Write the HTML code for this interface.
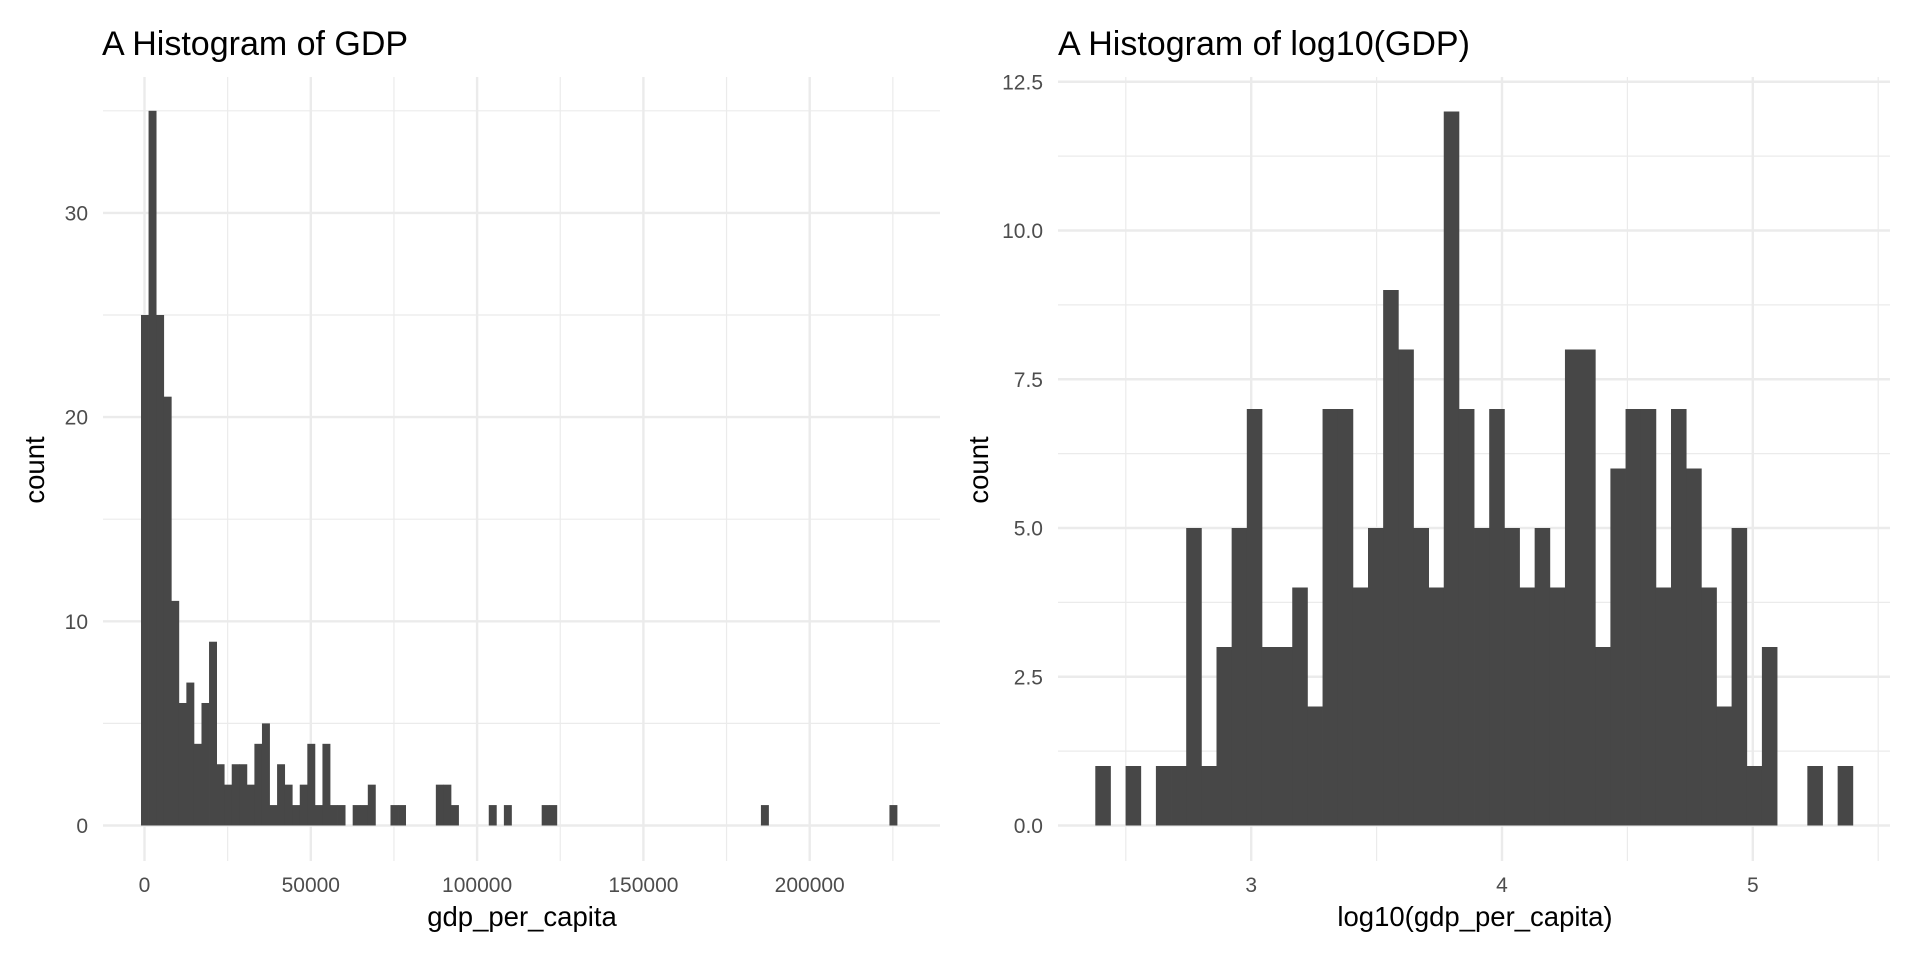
<!DOCTYPE html>
<html><head><meta charset="utf-8"><style>
html,body{margin:0;padding:0;background:#fff;}
svg{display:block;font-family:"Liberation Sans",Arial,sans-serif;}
</style></head><body>
<svg id="s" width="1920" height="960" xmlns="http://www.w3.org/2000/svg">
<rect width="1920" height="960" fill="#fff"/>
<g id="grid"></g>
<g id="bars" fill="#474747"></g>
<g id="txt" font-size="21" fill="#4d4d4d"></g>
<text x="102" y="55" font-size="34" fill="#000">A Histogram of GDP</text>
<text x="1058" y="55" font-size="34" fill="#000">A Histogram of log10(GDP)</text>
<text x="522" y="926" font-size="27.5" fill="#000" text-anchor="middle">gdp_per_capita</text>
<text x="1475" y="926" font-size="27.5" fill="#000" text-anchor="middle">log10(gdp_per_capita)</text>
<text transform="translate(44,470) rotate(-90)" font-size="27.5" fill="#000" text-anchor="middle">count</text>
<text transform="translate(988,470) rotate(-90)" font-size="27.5" fill="#000" text-anchor="middle">count</text>
</svg>
<script>
var NS="http://www.w3.org/2000/svg";
function el(p,t,a,txt){var e=document.createElementNS(NS,t);for(var k in a)e.setAttribute(k,a[k]);if(txt!==undefined)e.textContent=txt;document.getElementById(p).appendChild(e);}
var L={x0:103,x1:940,top:77,bot:861,base:825.5,unit:20.42,xz:144.5,xs:166.3/50000};
for(var v=5;v<=35;v+=10){var y=L.base-v*L.unit;el('grid','line',{x1:L.x0,x2:L.x1,y1:y,y2:y,stroke:'#ebebeb','stroke-width':1.2});}
for(var v=25000;v<=225000;v+=50000){var x=L.xz+v*L.xs;el('grid','line',{x1:x,x2:x,y1:L.top,y2:L.bot,stroke:'#ebebeb','stroke-width':1.2});}
for(var v=0;v<=30;v+=10){var y=L.base-v*L.unit;el('grid','line',{x1:L.x0,x2:L.x1,y1:y,y2:y,stroke:'#ebebeb','stroke-width':2.4});el('txt','text',{x:88,y:y+7.5,'text-anchor':'end'},String(v));}
for(var v=0;v<=200000;v+=50000){var x=L.xz+v*L.xs;el('grid','line',{x1:x,x2:x,y1:L.top,y2:L.bot,stroke:'#ebebeb','stroke-width':2.4});el('txt','text',{x:x,y:892,'text-anchor':'middle'},String(v));}
var cl={0:25,1:35,2:25,3:21,4:11,5:6,6:7,7:4,8:6,9:9,10:3,11:2,12:3,13:3,14:2,15:4,16:5,17:1,18:3,19:2,20:1,21:2,22:4,23:1,24:4,25:1,26:1,28:1,29:1,30:2,33:1,34:1,39:2,40:2,41:1,46:1,48:1,53:1,54:1,82:1,99:1};
var bw=7.56,bx=141;
for(var i in cl){var h=cl[i]*L.unit;el('bars','rect',{x:bx+i*bw,y:L.base-h,width:bw+0.4,height:h});}
var R={x0:1058,x1:1890,top:77,bot:861,base:825.5,unit:59.5,xz:1251.2,xs:250.8};
for(var v=1.25;v<=11.25;v+=2.5){var y=R.base-v*R.unit;el('grid','line',{x1:R.x0,x2:R.x1,y1:y,y2:y,stroke:'#ebebeb','stroke-width':1.2});}
[2.5,3.5,4.5,5.5].forEach(function(v){var x=R.xz+(v-3)*R.xs;el('grid','line',{x1:x,x2:x,y1:R.top,y2:R.bot,stroke:'#ebebeb','stroke-width':1.2});});
[0,2.5,5,7.5,10,12.5].forEach(function(v){var y=R.base-v*R.unit;el('grid','line',{x1:R.x0,x2:R.x1,y1:y,y2:y,stroke:'#ebebeb','stroke-width':2.4});el('txt','text',{x:1043,y:y+7.5,'text-anchor':'end'},v.toFixed(1));});
[3,4,5].forEach(function(v){var x=R.xz+(v-3)*R.xs;el('grid','line',{x1:x,x2:x,y1:R.top,y2:R.bot,stroke:'#ebebeb','stroke-width':2.4});el('txt','text',{x:x,y:892,'text-anchor':'middle'},String(v));});
var cr=[1,0,1,0,1,1,5,1,3,5,7,3,3,4,2,7,7,4,5,9,8,5,4,12,7,5,7,5,4,5,4,8,8,3,6,7,7,4,7,6,4,2,5,1,3,0,0,1,0,1];
var rw=15.15,rx=1095.3;
for(var i=0;i<cr.length;i++){if(!cr[i])continue;var h=cr[i]*R.unit;el('bars','rect',{x:rx+i*rw,y:R.base-h,width:rw+0.4,height:h});}
</script>
</body></html>
